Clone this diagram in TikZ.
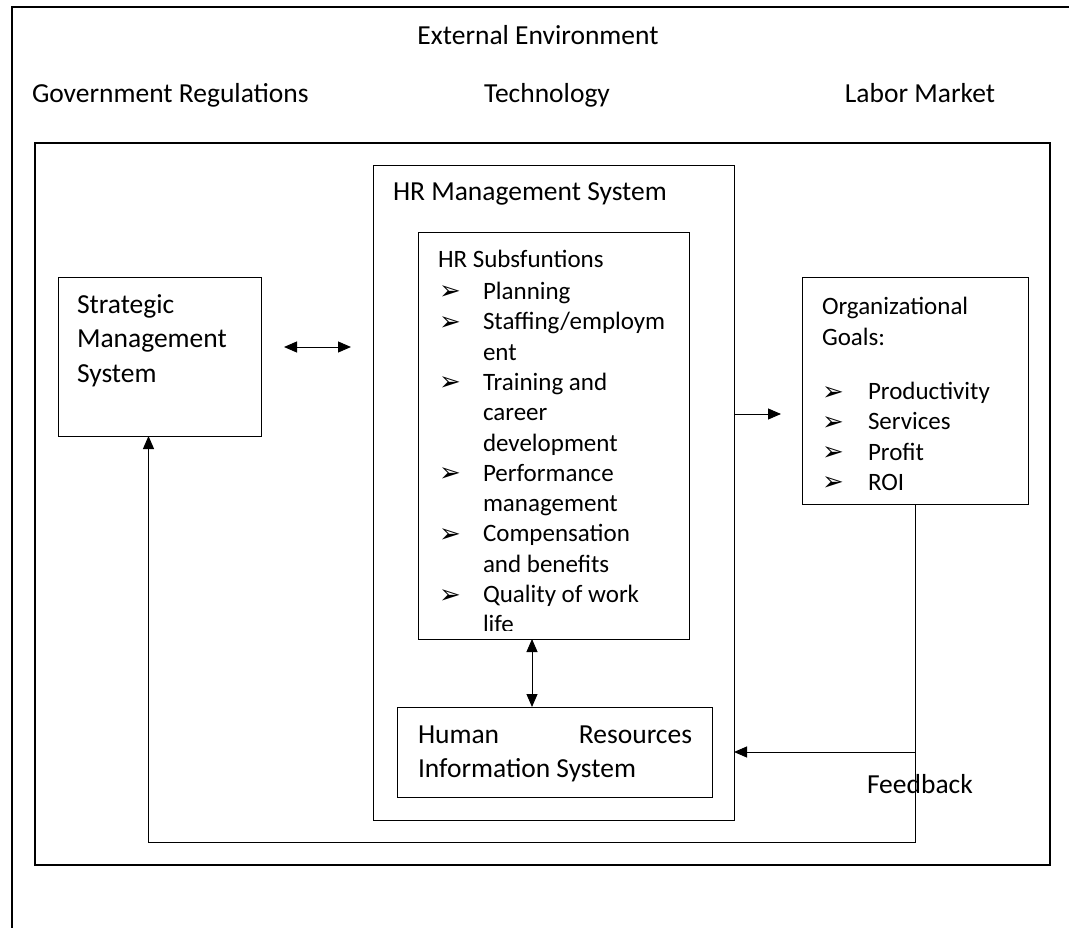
\documentclass[tikz,border=0pt]{standalone}
\usepackage{fontspec}
\setmainfont{Carlito}
\newfontfamily\dingfont{DejaVu Sans}
\usetikzlibrary{arrows.meta,calc}

\tikzset{
  frame/.style={draw=black, line width=1.6pt},
  panel/.style={draw=black, line width=1.3pt, inner sep=0pt, outer sep=0pt, anchor=north west},
  boxst/.style={draw=black, line width=1pt, inner sep=0pt, outer sep=0pt, anchor=north west},
  big/.style={inner sep=0pt, outer sep=0pt, font=\fontsize{27.5}{34}\selectfont, text=black},
  small/.style={inner sep=0pt, outer sep=0pt, font=\fontsize{25}{30.3}\selectfont, text=black},
  bul/.style={inner sep=0pt, outer sep=0pt, font=\dingfont\fontsize{26}{30}\selectfont, text=black},
  link/.style={draw=black, line width=1pt},
  arr/.style={link, -{Triangle[length=13pt,width=11pt]}},
  dbl/.style={link, {Triangle[length=13pt,width=11pt]}-{Triangle[length=13pt,width=11pt]}}
}

\begin{document}
\begin{tikzpicture}[x=1pt,y=-1pt]
\useasboundingbox (0,0) rectangle (1069,928);

% outermost frame (runs off the page on the right and at the bottom)
\draw[frame] (1075,7) -- (12,7) -- (12,935);

% external environment labels
\node[big, anchor=base] (ext) at (538,45) {External Environment};
\node[big, anchor=base west] (gov) at (32,103) {Government Regulations};
\node[big, anchor=base] (tech) at (547,103) {Technology};
\node[big, anchor=base] (labor) at (920,103) {Labor Market};

% organisation panel
\node[panel, minimum width=1015pt, minimum height=722pt] (orgp) at (35,143) {};

% HR management system
\node[boxst, minimum width=361pt, minimum height=654pt] (hrm) at (373,166) {};
\node[big, anchor=base west] (hrmt) at (393,201) {HR Management System};

% HR subfunctions
\node[boxst, minimum width=271pt, minimum height=406pt] (subs) at (418,233) {};
\node[small, anchor=base west] (subst) at (438,267.5) {HR Subsfuntions};
\begin{scope}
  \clip (418,233) rectangle (689,630);
  \foreach \k/\b/\t in {0/1/{Planning}, 1/1/{Staffing/employm}, 2/0/{ent},
                        3/1/{Training and}, 4/0/{career}, 5/0/{development},
                        6/1/{Performance}, 7/0/{management}, 8/1/{Compensation},
                        9/0/{and benefits}, 10/1/{Quality of work}, 11/0/{life}}{
    \node[small, anchor=base west] (li\k) at (483,{299.5+30.3*\k}) {\t};
    \ifnum\b=1
      \node[bul, anchor=base west] (bu\k) at (439,{300+30.3*\k}) {➢};
    \fi
  }
\end{scope}

% HR information system
\node[boxst, minimum width=315pt, minimum height=90pt] (hris) at (397,707) {};
\node[big, anchor=base west] (hris1) at (418,743) {Human};
\node[big, anchor=base east] (hris2) at (692,743) {Resources};
\node[big, anchor=base west] (hris3) at (418,777) {Information System};

% strategic management system
\node[boxst, minimum width=203pt, minimum height=158pt] (sms) at (58,278) {};
\node[big, anchor=base west] (sms1) at (77,314) {Strategic};
\node[big, anchor=base west] (sms2) at (77,348) {Management};
\node[big, anchor=base west] (sms3) at (77,382) {System};

% organizational goals
\node[boxst, minimum width=226pt, minimum height=226pt] (goals) at (802,278) {};
\node[small, anchor=base west] (g1) at (822,314.5) {Organizational};
\node[small, anchor=base west] (g2) at (822,345.5) {Goals:};
\foreach \k/\t in {0/Productivity, 1/Services, 2/Profit, 3/ROI}{
  \node[small, anchor=base west] (gi\k) at (868,{399.5+30.3*\k}) {\t};
  \node[bul, anchor=base west] (gb\k) at (822,{400+30.3*\k}) {➢};
}

\node[big, anchor=base west] (fb) at (867,793) {Feedback};

% connectors
\coordinate (gin) at ([yshift=-23pt]goals.west);
\draw[dbl, shorten <=23pt, shorten >=22pt]
  ([yshift=10pt]sms.east) -- ([yshift=10pt]sms.east -| hrm.west);
\draw[dbl] ([xshift=-21.5pt]subs.south) -- ([xshift=-21.5pt]subs.south |- hris.north);
\draw[arr, shorten >=21pt] (hrm.east |- gin) -- (gin);
\draw[arr] (goals.south) -- ($(goals.south)+(0,338)$) -| ([xshift=-11pt]sms.south);
\draw[arr] (goals.south |- hris.east) -- (hrm.east |- hris.east);
\end{tikzpicture}
\end{document}
